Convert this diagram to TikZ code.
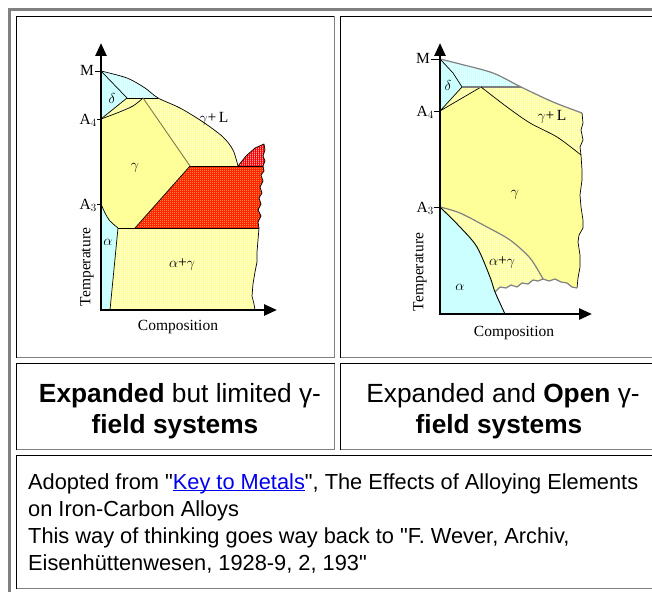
\documentclass[tikz,border=0pt]{standalone}
\usepackage{fontspec}
\setmainfont{Liberation Sans}[Ligatures=TeXOff]
\newfontfamily\serifd{Liberation Serif}
\usetikzlibrary{arrows.meta,patterns.meta}
\definecolor{cyanl}{HTML}{CCFFFF}
\definecolor{yel}{HTML}{FFFF99}
\definecolor{framegray}{HTML}{808080}
\definecolor{linkblue}{HTML}{0000EE}
\definecolor{olivegray}{HTML}{807850}
\newcommand\lnkul[1]{\sbox0{#1}\rlap{\rule[-2.3pt]{\wd0}{1.1pt}}\box0}
\tikzdeclarepattern{name=vstripes,type=uncolored,bounding box={(0pt,0pt) and (2pt,2pt)},tile size={(2pt,2pt)},code={\fill (0pt,0pt) rectangle (1pt,2pt);}}
\tikzdeclarepattern{name=dotsq,type=uncolored,bounding box={(0pt,0pt) and (2pt,2pt)},tile size={(2pt,2pt)},code={\fill (0pt,0pt) rectangle (1pt,1pt);}}
\tikzset{
  cyanstripe/.style={fill=cyanl, postaction={pattern=vstripes, pattern color=white}},
  yelstripe/.style={fill=yel, postaction={pattern=vstripes, pattern color=white}},
  redstripe/.style={fill=red, postaction={pattern=vstripes, pattern color=white}},
  redcheck/.style={fill=red!85!yellow, postaction={pattern=dotsq, pattern color=yel}},
  bd/.style={line width=0.7pt, draw=black, line join=round},
  gbd/.style={line width=1.2pt, draw=black!50, line join=round},
  obd/.style={line width=0.9pt, draw=olivegray, line join=round},
  axisl/.style={line width=2.6pt, -{Triangle[length=13pt,width=11pt]}},
  tickl/.style={line width=0.9pt},
  dlabel/.style={font=\serifd\fontsize{15.5}{16}\selectfont, inner sep=0pt},
  cellblack/.style={line width=1pt, draw=black},
  cellgray/.style={line width=1pt, draw=framegray},
  captxt/.style={font=\fontsize{26.3}{31}\selectfont, inner sep=0pt, anchor=base},
  bodytxt/.style={font=\fontsize{21.8}{27}\selectfont, inner sep=0pt, anchor=base west},
}
\begin{document}
\begin{tikzpicture}[x=1pt,y=-1pt]
\useasboundingbox (0,0) rectangle (652,591);
\fill[white] (0,0) rectangle (652,591);

% ---------- table frame ----------
\draw[framegray, line width=3pt] (9.5,600) -- (9.5,9.5) -- (660,9.5);
% left image cell
\draw[cellblack] (16.5,357.5) -- (16.5,16.5) -- (334.5,16.5);
\draw[cellgray] (334.5,16.5) -- (334.5,357.5) -- (16.5,357.5);
% right image cell
\draw[cellblack] (340.5,357.5) -- (340.5,16.5) -- (660,16.5);
\draw[cellgray] (660,357.5) -- (340.5,357.5);
% caption cells
\draw[cellblack] (16.5,449.5) -- (16.5,363.5) -- (334.5,363.5);
\draw[cellgray] (334.5,363.5) -- (334.5,449.5) -- (16.5,449.5);
\draw[cellblack] (340.5,449.5) -- (340.5,363.5) -- (660,363.5);
\draw[cellgray] (660,449.5) -- (340.5,449.5);
% bottom cell
\draw[cellblack] (16.5,588.5) -- (16.5,455.5) -- (660,455.5);
\draw[cellgray] (660,588.5) -- (16.5,588.5);

% ---------- left diagram ----------
\coordinate (lM) at (101,71);
\coordinate (lA4) at (101,119);
\coordinate (lA3) at (101,204);
\coordinate (lO) at (101,310);
\coordinate (lT1) at (127,98);
\coordinate (lT2) at (143,98);
\coordinate (lP) at (158,98);
\coordinate (lE) at (190,166);
\coordinate (lL) at (238,166);
\coordinate (lR) at (263,166);
\coordinate (lB) at (135,228);
\coordinate (lG) at (118,228);
\coordinate (lBR) at (259,228);
\coordinate (lAb) at (110,310);
\coordinate (lABR) at (255,310);

\fill[cyanl] (lM) -- (lT1) -- (lA4) -- cycle;
\path[cyanstripe] plot[smooth] coordinates {(101,71) (127,78) (145,88) (158,98)} -- (lT1) -- cycle;
\path[yelstripe] (lT1) -- (lA4) -- plot[smooth] coordinates {(101,119) (117,113) (133,106) (143,98)} -- cycle;
\path[yelstripe] (lT2) -- plot[smooth] coordinates {(158,98) (180,108) (203,122) (223,137) (233,150) (238,166)} -- (lE) -- cycle;
\path[redstripe] (lL) -- (246,156) -- (255,148) -- (264,144) -- (265,150) -- (263,156) -- (265,161) -- (lR) -- cycle;
\path[redcheck] (lE) -- (lR) -- (264,171) -- (261,175) -- (263,181) -- (260,187) -- (262,193) -- (259,198) -- (261,204) -- (258,210) -- (261,216) -- (258,222) -- (lBR) -- (lB) -- cycle;
\fill[yel] (lA4) -- (lA3) -- plot[smooth] coordinates {(101,204) (105,213) (110,221) (118,228)} -- (lB) -- (lE) -- (lT2) -- plot[smooth] coordinates {(143,98) (133,106) (117,113) (101,119)} -- cycle;
\fill[cyanl] (lA3) -- (lO) -- (lAb) -- (lG) -- plot[smooth] coordinates {(118,228) (110,221) (105,213) (101,204)} -- cycle;
\path[yelstripe] (lG) -- (lBR) -- (258,240) -- (257,252) -- (257,262) -- (255,272) -- (253,284) -- (252,296) -- (254,304) -- (lABR) -- (lAb) -- cycle;

\draw[bd] plot[smooth] coordinates {(101,71) (127,78) (145,88) (158,98) (180,108) (203,122) (223,137) (233,150) (238,166)};
\draw[bd] (lM) -- (lT1) -- (lA4);
\draw[bd] plot[smooth] coordinates {(101,119) (117,113) (133,106) (143,98)};
\draw[bd] (lT1) -- (lP);
\draw[obd] (lT2) -- (lE);
\draw[bd] (lE) -- (lR);
\draw[bd] (lB) -- (lE);
\draw[bd] (lG) -- (lBR);
\draw[bd] plot[smooth] coordinates {(101,204) (105,213) (110,221) (118,228)};
\draw[bd] (lAb) -- (lG);
\draw[bd] (lL) -- (246,156) -- (255,148) -- (264,144) -- (265,150) -- (263,156) -- (265,161) -- (lR) -- (264,171) -- (261,175) -- (263,181) -- (260,187) -- (262,193) -- (259,198) -- (261,204) -- (258,210) -- (261,216) -- (258,222) -- (lBR) -- (258,240) -- (257,252) -- (257,262) -- (255,272) -- (253,284) -- (252,296) -- (254,304) -- (lABR);

\draw[axisl] (101,311.3) -- (101,43);
\draw[axisl] (99.7,310) -- (277,310);
\draw[tickl] (95,71) -- (101,71);
\draw[tickl] (97,119) -- (101,119);
\draw[tickl] (97,204) -- (101,204);

\node[dlabel, anchor=base east] (lMlab) at (94,76) {M};
\node[dlabel, anchor=base east] (lA4lab) at (97,124) {A$_4$};
\node[dlabel, anchor=base east] (lA3lab) at (97,209) {A$_3$};
\node[dlabel, rotate=90] (ltemp) at (87,267) {Temperature};
\node[dlabel] (lcomp) at (178,327) {Composition};
\node[dlabel] (ldelta) at (112,98) {$\delta$};
\node[dlabel] (lgl) at (214,119) {$\gamma$+\,L};
\node[dlabel] (lgam) at (135,168) {$\gamma$};
\node[dlabel] (lalpha) at (108,242) {$\alpha$};
\node[dlabel] (lag) at (182,265) {$\alpha$+$\gamma$};

% ---------- right diagram ----------
\coordinate (rM) at (440,59);
\coordinate (rA4) at (440,111);
\coordinate (rA3) at (440,207);
\coordinate (rO) at (440,314);
\coordinate (rT1) at (462,87);
\coordinate (rT2) at (481,87);
\coordinate (rP) at (521,87);
\coordinate (rLE) at (582,113);
\coordinate (rGE) at (581,155);
\coordinate (rBE) at (577,288);
\coordinate (rW) at (543,279);
\coordinate (rAW) at (495,292);
\coordinate (rAb) at (505,314);

\fill[cyanl] (rM) -- (rT1) -- (rA4) -- cycle;
\path[cyanstripe] plot[smooth] coordinates {(440,59) (460,64) (493,73) (521,87)} -- (rT1) -- cycle;
\path[yelstripe] (rT1) -- (rA4) -- (rT2) -- cycle;
\path[yelstripe] (rT2) -- plot[smooth] coordinates {(521,87) (553,102) (582,113)} -- (583,123) -- (581,130) -- (583,140) -- (580,147) -- (rGE) -- plot[smooth] coordinates {(581,155) (557,137) (530,123) (507,107) (481,87)} -- cycle;
\fill[yel] (rA4) -- plot[smooth] coordinates {(481,87) (507,107) (530,123) (557,137) (581,155)} -- (582,170) -- (582,180) -- (580,195) -- (581,207) -- (583,220) -- (583,228) -- (579,235) -- (578,242) -- (580,255) -- (580,267) -- (578,278) -- (rBE) -- (572,287) -- (567,283) -- (561,282) -- (555,279) -- (549,281) -- (rW) -- plot[smooth] coordinates {(543,279) (530,258) (510,240) (487,227) (460,213) (440,207)} -- cycle;
\path[yelstripe] (rA3) -- plot[smooth] coordinates {(440,207) (460,213) (487,227) (510,240) (530,258) (543,279)} -- (538,281) -- (533,280) -- (528,284) -- (522,283) -- (517,287) -- (511,285) -- (506,288) -- (500,287) -- (rAW) -- plot[smooth] coordinates {(495,292) (490,277) (477,247) (460,227) (440,207)} -- cycle;
\fill[cyanl] (rA3) -- (rO) -- (rAb) -- plot[smooth] coordinates {(505,314) (495,292) (490,277) (477,247) (460,227) (440,207)} -- cycle;

\draw[gbd] plot[smooth] coordinates {(440,59) (460,64) (493,73) (521,87) (553,102) (582,113)};
\draw[bd] (rM) -- (453,73) -- (rT1) -- (rA4) -- (rT2);
\draw[gbd] (rT1) -- (rP);
\draw[bd] plot[smooth] coordinates {(481,87) (507,107) (530,123) (557,137) (581,155)};
\draw[bd] (rLE) -- (583,123) -- (581,130) -- (583,140) -- (580,147) -- (rGE) -- (582,170) -- (582,180) -- (580,195) -- (581,207) -- (583,220) -- (583,228) -- (579,235) -- (578,242) -- (580,255) -- (580,267) -- (578,278) -- (rBE);
\draw[gbd] (rBE) -- (572,287) -- (567,283) -- (561,282) -- (555,279) -- (549,281) -- (rW) -- (538,281) -- (533,280) -- (528,284) -- (522,283) -- (517,287) -- (511,285) -- (506,288) -- (500,287) -- (rAW);
\draw[gbd] plot[smooth] coordinates {(440,207) (460,213) (487,227) (510,240) (530,258) (543,279)};
\draw[bd, line width=0.9pt] plot[smooth] coordinates {(440,207) (460,227) (477,247) (490,277) (495,292) (505,314)};

\draw[axisl] (440,315.3) -- (440,43);
\draw[axisl] (438.7,314) -- (592,314);
\draw[tickl] (431,59) -- (440,59);
\draw[tickl] (434,111) -- (440,111);
\draw[tickl] (434,207) -- (440,207);

\node[dlabel, anchor=base east] (rMlab) at (430,64) {M};
\node[dlabel, anchor=base east] (rA4lab) at (434,116) {A$_4$};
\node[dlabel, anchor=base east] (rA3lab) at (434,212) {A$_3$};
\node[dlabel, rotate=90] (rtemp) at (420,272) {Temperature};
\node[dlabel] (rcomp) at (514,333) {Composition};
\node[dlabel] (rdelta) at (448,86) {$\delta$};
\node[dlabel] (rgl) at (552,117) {$\gamma$+\,L};
\node[dlabel] (rgam) at (515,195) {$\gamma$};
\node[dlabel] (ralpha) at (460,287) {$\alpha$};
\node[dlabel] (rag) at (502,263) {$\alpha$+$\gamma$};

% ---------- captions ----------
\node[captxt] (cap1a) at (180,402) {\bfseries Expanded\mdseries{} but limited γ-};
\node[captxt] (cap1b) at (175,433) {\bfseries field systems};
\node[captxt] (cap2a) at (503,402) {Expanded and \textbf{Open} γ-};
\node[captxt] (cap2b) at (499,433) {\bfseries field systems};

% ---------- bottom text ----------
\node[bodytxt] (t1) at (28,489) {Adopted from "\textcolor{linkblue}{\lnkul{Key to Metals}}", The Effects of Alloying Elements};
\node[bodytxt] (t2) at (28,516) {on Iron-Carbon Alloys};
\node[bodytxt] (t3) at (28,543) {This way of thinking goes way back to "F. Wever, Archiv,};
\node[bodytxt] (t4) at (28,570) {Eisenhüttenwesen, 1928-9, 2, 193"};
\end{tikzpicture}
\end{document}
